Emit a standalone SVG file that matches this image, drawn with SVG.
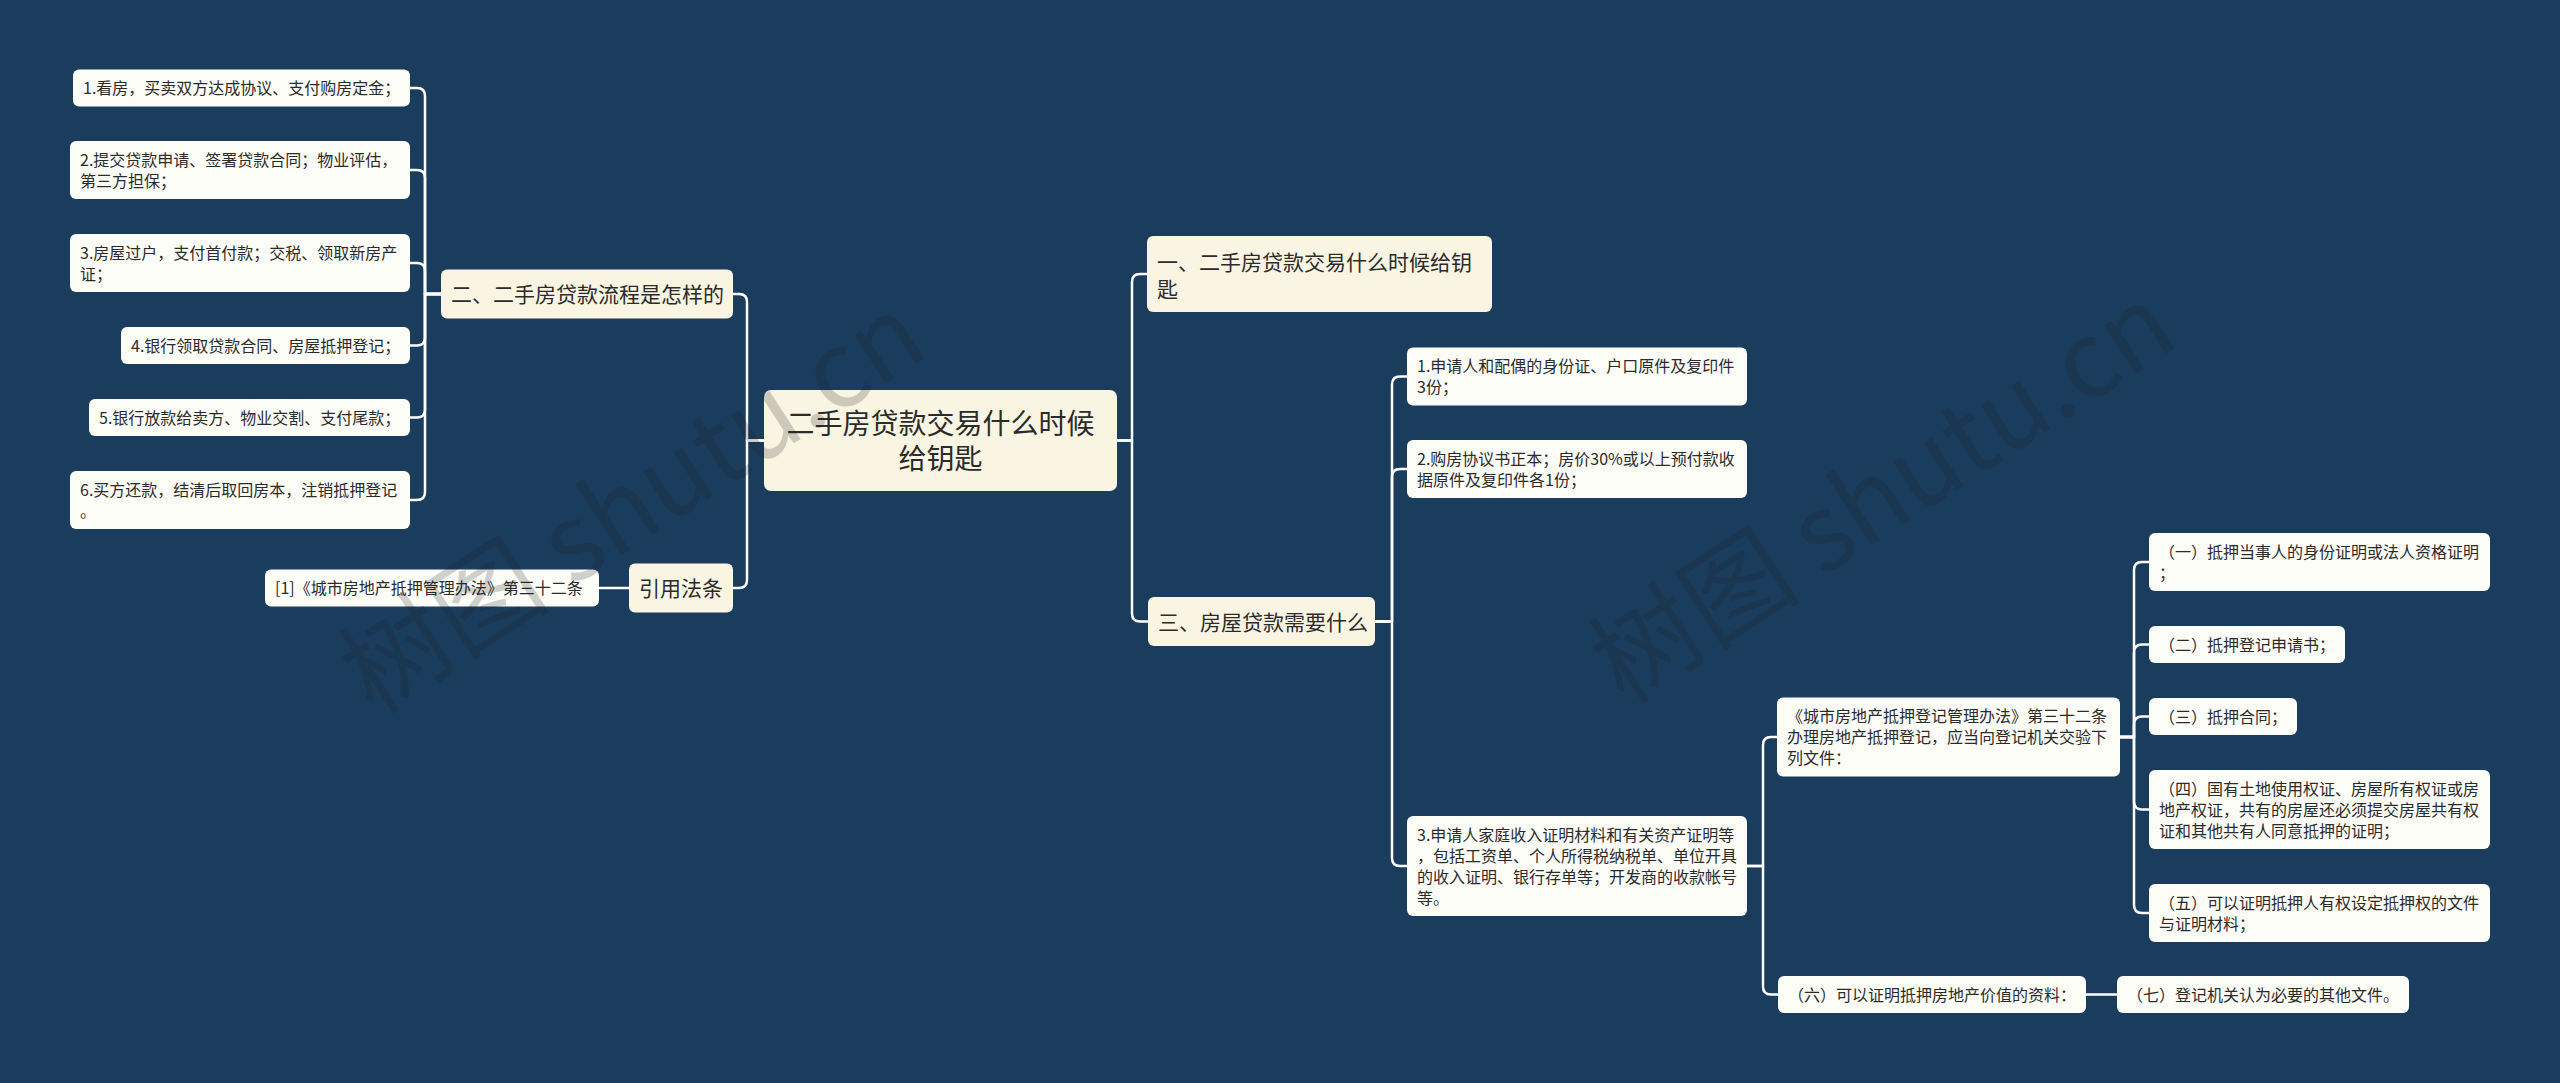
<svg xmlns="http://www.w3.org/2000/svg" width="2560" height="1083" viewBox="0 0 2560 1083">
<style>
.bg{fill:#1a3d5e}
.root{fill:#faf5e2}
.l1{fill:#faf5e2}
.leaf{fill:#fdfdf8}
text{font-family:"Noto Sans CJK SC","Noto Sans CJK JP",sans-serif;fill:#2b2b2b}
.t16{font-size:16px}
.t21{font-size:21px}
.t28{font-size:28px}
.conn path{fill:none;stroke:#ffffff;stroke-width:2.5;stroke-linejoin:round;stroke-linecap:round}
.wm{font-size:106px;fill:#1e1e1e;opacity:0.2}
</style>
<rect class="bg" x="0" y="0" width="2560" height="1083"/>

<g id="connectors" class="conn">
<path d="M764 440.5 H747 V302 Q747 294 739 294 H733"/>
<path d="M764 440.5 H747 V580 Q747 588 739 588 H733"/>
<path d="M1117 440.5 H1132 V282 Q1132 274 1140 274 H1147"/>
<path d="M1117 440.5 H1132 V613.5 Q1132 621.5 1140 621.5 H1148"/>
<path d="M441 294 H425 V96 Q425 88 417 88 H410"/>
<path d="M441 294 H425 V178 Q425 170 417 170 H410"/>
<path d="M441 294 H425 V271 Q425 263 417 263 H410"/>
<path d="M441 294 H425 V337.5 Q425 345.5 417 345.5 H410"/>
<path d="M441 294 H425 V409.5 Q425 417.5 417 417.5 H410"/>
<path d="M441 294 H425 V492 Q425 500 417 500 H410"/>
<path d="M629 588 H599"/>
<path d="M1375 621.5 H1392 V384.5 Q1392 376.5 1400 376.5 H1407"/>
<path d="M1375 621.5 H1392 V477 Q1392 469 1400 469 H1407"/>
<path d="M1375 621.5 H1392 V858 Q1392 866 1400 866 H1407"/>
<path d="M1747 866 H1763 V745 Q1763 737 1771 737 H1777"/>
<path d="M1747 866 H1763 V986.5 Q1763 994.5 1771 994.5 H1778"/>
<path d="M2120 737 H2134 V570 Q2134 562 2142 562 H2149"/>
<path d="M2120 737 H2134 V652.5 Q2134 644.5 2142 644.5 H2149"/>
<path d="M2120 737 H2134 V724.5 Q2134 716.5 2142 716.5 H2149"/>
<path d="M2120 737 H2134 V801.5 Q2134 809.5 2142 809.5 H2149"/>
<path d="M2120 737 H2134 V905 Q2134 913 2142 913 H2149"/>
<path d="M2086 994.5 H2117"/>
</g>

<g id="node-root">
<rect class="root" x="764" y="390" width="353" height="101" rx="7"/>
<text class="t28" text-anchor="middle"><tspan x="940.5" y="433.6">二手房贷款交易什么时候</tspan><tspan x="940.5" y="468.6">给钥匙</tspan></text>
</g>

<g id="node-l-two">
<rect class="l1" x="441" y="269.5" width="292" height="49" rx="6"/>
<text class="t21" x="451" y="302">二、二手房贷款流程是怎样的</text>
</g>
<g id="node-l-cite">
<rect class="l1" x="629" y="563.5" width="104" height="49" rx="6"/>
<text class="t21" x="639" y="596">引用法条</text>
</g>
<g id="node-r-one">
<rect class="l1" x="1147" y="236" width="345" height="76" rx="6"/>
<text class="t21"><tspan x="1157" y="269.5">一、二手房贷款交易什么时候给钥</tspan><tspan x="1157" y="296.5">匙</tspan></text>
</g>
<g id="node-r-three">
<rect class="l1" x="1148" y="597" width="227" height="49" rx="6"/>
<text class="t21" x="1158" y="629.5">三、房屋贷款需要什么</text>
</g>

<g id="node-step1">
<rect class="leaf" x="73" y="69.5" width="337" height="37" rx="6"/>
<text class="t16" x="83" y="94">1.看房，买卖双方达成协议、支付购房定金；</text>
</g>
<g id="node-step2">
<rect class="leaf" x="70" y="141" width="340" height="58" rx="6"/>
<text class="t16"><tspan x="80" y="165.5">2.提交贷款申请、签署贷款合同；物业评估，</tspan><tspan x="80" y="186.5">第三方担保；</tspan></text>
</g>
<g id="node-step3">
<rect class="leaf" x="70" y="234" width="340" height="58" rx="6"/>
<text class="t16"><tspan x="80" y="258.5">3.房屋过户，支付首付款；交税、领取新房产</tspan><tspan x="80" y="279.5">证；</tspan></text>
</g>
<g id="node-step4">
<rect class="leaf" x="121" y="327" width="289" height="37" rx="6"/>
<text class="t16" x="131" y="351.5">4.银行领取贷款合同、房屋抵押登记；</text>
</g>
<g id="node-step5">
<rect class="leaf" x="89" y="399" width="321" height="37" rx="6"/>
<text class="t16" x="99" y="423.5">5.银行放款给卖方、物业交割、支付尾款；</text>
</g>
<g id="node-step6">
<rect class="leaf" x="70" y="471" width="340" height="58" rx="6"/>
<text class="t16"><tspan x="80" y="495.5">6.买方还款，结清后取回房本，注销抵押登记</tspan><tspan x="80" y="516.5">。</tspan></text>
</g>
<g id="node-cite1">
<rect class="leaf" x="265" y="569.5" width="334" height="37" rx="6"/>
<text class="t16" x="275" y="594">[1]《城市房地产抵押管理办法》第三十二条</text>
</g>

<g id="node-req1">
<rect class="leaf" x="1407" y="347.5" width="340" height="58" rx="6"/>
<text class="t16"><tspan x="1417" y="372">1.申请人和配偶的身份证、户口原件及复印件</tspan><tspan x="1417" y="393">3份；</tspan></text>
</g>
<g id="node-req2">
<rect class="leaf" x="1407" y="440" width="340" height="58" rx="6"/>
<text class="t16"><tspan x="1417" y="464.5">2.购房协议书正本；房价30%或以上预付款收</tspan><tspan x="1417" y="485.5">据原件及复印件各1份；</tspan></text>
</g>
<g id="node-req3">
<rect class="leaf" x="1407" y="816" width="340" height="100" rx="6"/>
<text class="t16"><tspan x="1417" y="840.5">3.申请人家庭收入证明材料和有关资产证明等</tspan><tspan x="1417" y="861.5">，包括工资单、个人所得税纳税单、单位开具</tspan><tspan x="1417" y="882.5">的收入证明、银行存单等；开发商的收款帐号</tspan><tspan x="1417" y="903.5">等。</tspan></text>
</g>

<g id="node-law">
<rect class="leaf" x="1777" y="697.5" width="343" height="79" rx="6"/>
<text class="t16"><tspan x="1787" y="722">《城市房地产抵押登记管理办法》第三十二条</tspan><tspan x="1787" y="743">办理房地产抵押登记，应当向登记机关交验下</tspan><tspan x="1787" y="764">列文件：</tspan></text>
</g>
<g id="node-doc6">
<rect class="leaf" x="1778" y="976" width="308" height="37" rx="6"/>
<text class="t16" x="1788" y="1000.5">（六）可以证明抵押房地产价值的资料：</text>
</g>
<g id="node-doc7">
<rect class="leaf" x="2117" y="976" width="292" height="37" rx="6"/>
<text class="t16" x="2127" y="1000.5">（七）登记机关认为必要的其他文件。</text>
</g>
<g id="node-doc1">
<rect class="leaf" x="2149" y="533" width="341" height="58" rx="6"/>
<text class="t16"><tspan x="2159" y="557.5">（一）抵押当事人的身份证明或法人资格证明</tspan><tspan x="2159" y="578.5">；</tspan></text>
</g>
<g id="node-doc2">
<rect class="leaf" x="2149" y="626" width="196" height="37" rx="6"/>
<text class="t16" x="2159" y="650.5">（二）抵押登记申请书；</text>
</g>
<g id="node-doc3">
<rect class="leaf" x="2149" y="698" width="148" height="37" rx="6"/>
<text class="t16" x="2159" y="722.5">（三）抵押合同；</text>
</g>
<g id="node-doc4">
<rect class="leaf" x="2149" y="770" width="341" height="79" rx="6"/>
<text class="t16"><tspan x="2159" y="794.5">（四）国有土地使用权证、房屋所有权证或房</tspan><tspan x="2159" y="815.5">地产权证，共有的房屋还必须提交房屋共有权</tspan><tspan x="2159" y="836.5">证和其他共有人同意抵押的证明；</tspan></text>
</g>
<g id="node-doc5">
<rect class="leaf" x="2149" y="884" width="341" height="58" rx="6"/>
<text class="t16"><tspan x="2159" y="908.5">（五）可以证明抵押人有权设定抵押权的文件</tspan><tspan x="2159" y="929.5">与证明材料；</tspan></text>
</g>

<g id="watermark">
<text class="wm" transform="translate(374 716) rotate(-33)">树图 shutu.cn</text>
<text class="wm" transform="translate(1624 706) rotate(-33)">树图 shutu.cn</text>
</g>
</svg>
